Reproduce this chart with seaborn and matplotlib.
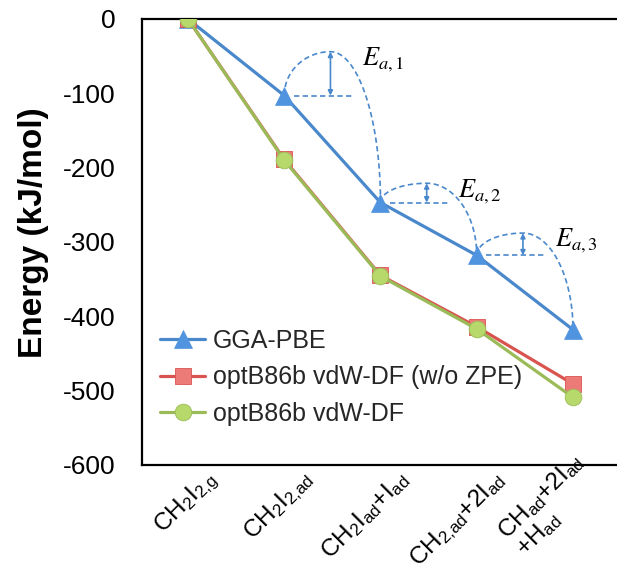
import numpy as np
import pandas as pd
import matplotlib
matplotlib.use("Agg")
import matplotlib.pyplot as plt
import matplotlib.transforms as mtransforms
import seaborn as sns

# Reaction steps along the x axis
steps = [
    r"CH$_2$I$_{2{,}g}$",
    r"CH$_2$I$_{2{,}ad}$",
    r"CH$_2$I$_{ad}$+I$_{ad}$",
    r"CH$_{2{,}ad}$+2I$_{ad}$",
    "CH$_{ad}$+2I$_{ad}$\n+H$_{ad}$",
]

# Relative energies (kJ/mol)
gga_pbe = [0, -103, -247, -318, -418]
optb86b_nozpe = [0, -189, -345, -414, -491]
optb86b = [0, -190, -346, -417, -509]

# Activation barriers for the three dissociation steps (GGA-PBE, kJ/mol)
barriers = [59, 26, 30]
barrier_labels = [
    r"$\mathit{E}_{\mathit{a}\mathrm{,1}}$",
    r"$\mathit{E}_{\mathit{a}\mathrm{,2}}$",
    r"$\mathit{E}_{\mathit{a}\mathrm{,3}}$",
]

sns.set_theme(style="white")
plt.rcParams["font.family"] = ["Liberation Sans", "DejaVu Sans"]
plt.rcParams["mathtext.default"] = "regular"
plt.rcParams["axes.unicode_minus"] = False

BLUE = "#4A88CC"
BLUE_FILL = "#5093DE"
RED = "#D9534F"
RED_FILL = "#EC7B78"
GREEN = "#9BBB59"
GREEN_FILL = "#B7D86B"

fig = plt.figure(figsize=(6.17, 5.79), dpi=100)
ax = fig.add_axes([0.2301, 0.1969, 0.7699, 0.7703])

pos = np.arange(len(steps))
df = pd.DataFrame({"step": pos, "gga": gga_pbe, "nozpe": optb86b_nozpe, "vdw": optb86b})

# Activation-barrier sketches (dashed arcs, reference level, double arrows)
dash = (0, (3.2, 2.0))
for i, (eb, lab) in enumerate(zip(barriers, barrier_labels)):
    x0, y0 = pos[i + 1], gga_pbe[i + 1]
    x1, y1 = pos[i + 2], gga_pbe[i + 2]
    xp, yp = x0 + 0.48, y0 + eb
    t = np.linspace(0, np.pi / 2, 60)
    left_x = xp - (xp - x0) * np.cos(t)
    left_y = y0 + (yp - y0) * np.sin(t)
    right_x = xp + (x1 - xp) * np.sin(t)
    right_y = y1 + (yp - y1) * np.cos(t)
    ax.plot(np.r_[left_x, right_x], np.r_[left_y, right_y], color=BLUE,
            lw=1.2, ls=dash, zorder=2)
    ax.plot([x0 + 0.1, x0 + 0.72], [y0, y0], color=BLUE, lw=1.2, ls=dash, zorder=2)
    ax.annotate("", xy=(xp, yp), xytext=(xp, y0),
                arrowprops=dict(arrowstyle="<|-|>", color=BLUE, lw=1.2,
                                shrinkA=0, shrinkB=0, mutation_scale=7),
                zorder=2)
    ax.text(xp + 0.33, yp + 8, lab, fontsize=19, math_fontfamily="stix",
            ha="left", va="top", color="black")

sns.lineplot(data=df, x="step", y="gga", ax=ax, color=BLUE, lw=2.3,
             marker="^", markersize=13, markerfacecolor=BLUE_FILL,
             markeredgecolor=BLUE_FILL, markeredgewidth=0.5,
             label="GGA-PBE", zorder=3)
sns.lineplot(data=df, x="step", y="nozpe", ax=ax, color=RED, lw=2.3,
             marker="s", markersize=12, markerfacecolor=RED_FILL,
             markeredgecolor=RED, markeredgewidth=0.6,
             label="optB86b vdW-DF (w/o ZPE)", zorder=3)
sns.lineplot(data=df, x="step", y="vdw", ax=ax, color=GREEN, lw=2.3,
             marker="o", markersize=12, markerfacecolor=GREEN_FILL,
             markeredgecolor=GREEN, markeredgewidth=0.6,
             label="optB86b vdW-DF", zorder=4)

ax.set_xlim(-0.478, 4.457)
ax.set_ylim(-600, 0)
ax.set_yticks(np.arange(-600, 1, 100))
ax.set_xticks(pos)
ax.set_xticklabels([])
ax.tick_params(axis="x", length=0)
ax.tick_params(axis="y", direction="in", length=6, width=1.2, color="black",
               labelsize=19, pad=19, labelcolor="black")
ax.set_xlabel("")
ax.set_ylabel("Energy (kJ/mol)", fontsize=24, fontweight="bold", color="black",
              va="center")
ax.yaxis.set_label_coords(-0.228, 0.52)

for side in ("left", "top", "bottom"):
    ax.spines[side].set_color("black")
    ax.spines[side].set_linewidth(1.6)
ax.spines["right"].set_visible(False)
ax.grid(False)

# Rotated category labels anchored at the right end of their first line
lab_tr = mtransforms.blended_transform_factory(ax.transData, ax.transAxes)
for x, s in zip(pos, steps):
    ax.text(x + 0.30, -0.033, s, transform=lab_tr, rotation=45,
            rotation_mode="anchor", ha="right", va="baseline",
            multialignment="left", fontsize=17.5, color="black",
            linespacing=1.0, clip_on=False)

ax.legend(loc="upper left", bbox_to_anchor=(0.038, 0.305), frameon=False,
          fontsize=18, borderpad=0, borderaxespad=0, handlelength=1.8,
          handletextpad=0.3, labelspacing=0.5)

fig.savefig("out.png", dpi=100)
